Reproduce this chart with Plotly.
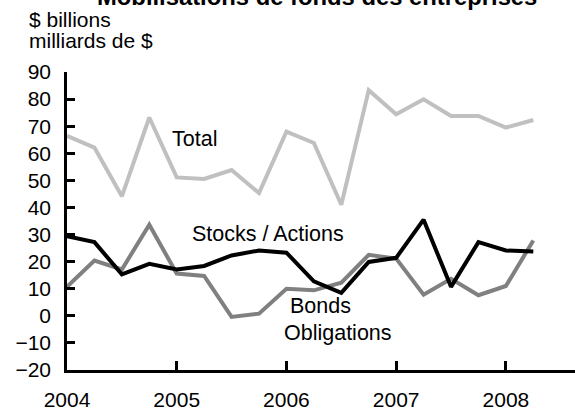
import plotly.graph_objects as go

quarters = [2004 + i * 0.25 for i in range(18)]
total = [66.4, 62.1, 44.1, 73.2, 51.1, 50.5, 53.8, 45.3, 68.0, 63.8, 41.0, 83.3, 74.4, 79.9, 73.8, 73.8, 69.5, 72.3]
stocks = [29.4, 27.2, 15.3, 19.2, 17.1, 18.4, 22.3, 24.1, 23.3, 12.7, 8.5, 19.9, 21.4, 35.5, 10.7, 27.2, 24.1, 23.7]
bonds = [10.7, 20.4, 17.1, 33.6, 15.6, 14.7, -0.4, 0.8, 10.0, 9.4, 12.2, 22.5, 21.1, 7.8, 13.7, 7.6, 11.0, 27.8]
year_ticks = [2004, 2005, 2006, 2007, 2008]
y_ticks = list(range(-20, 91, 10))

FONT = "Liberation Sans, Arial, sans-serif"

W, H = 575, 411
L, T, B, R = 67, 72, H - 371.7, 0

fig = go.Figure()
fig.add_trace(go.Scatter(x=quarters, y=total, mode="lines", line=dict(color="#c0c0c0", width=4), name="Total"))
fig.add_trace(go.Scatter(x=quarters, y=bonds, mode="lines", line=dict(color="#808080", width=4), name="Bonds"))
fig.add_trace(go.Scatter(x=quarters, y=stocks, mode="lines", line=dict(color="#000000", width=4), name="Stocks"))

fig.update_layout(
    width=W, height=H,
    margin=dict(l=L, r=R, t=T, b=B, pad=0),
    paper_bgcolor="white", plot_bgcolor="white",
    showlegend=False,
    font=dict(family=FONT, size=21, color="black"),
)
fig.update_xaxes(
    range=[2004, 2008.63], tickvals=year_ticks, ticktext=[str(y) for y in year_ticks],
    showgrid=False, zeroline=False, showline=True, linecolor="black", linewidth=2.5,
    ticks="inside", ticklen=9, tickwidth=2.5, tickcolor="black",
    tickfont=dict(family=FONT, size=21), ticklabelstandoff=9,
)
fig.update_yaxes(
    range=[-20, 90], tickvals=y_ticks,
    showgrid=False, zeroline=False, showline=True, linecolor="black", linewidth=2.5,
    ticks="inside", ticklen=8, tickwidth=2.5, tickcolor="black",
    tickfont=dict(family=FONT, size=21), ticklabelstandoff=9,
)

ann = dict(showarrow=False, font=dict(family=FONT, size=21.5, color="black"))
fig.add_annotation(x=2004.94, y=65.2, text="Total", xanchor="left", **ann)
fig.add_annotation(x=2005.12, y=30.3, text="Stocks / Actions", xanchor="left", **ann)
fig.add_annotation(x=2006.01, y=3.5, text="Bonds", xanchor="left", **ann)
fig.add_annotation(x=2005.96, y=-6.5, text="Obligations", xanchor="left", **ann)

plot_h = H - T - B
plot_w = W - L - R
def page_to_paper(px, py):
    return (px - L) / plot_w, (H - B - py) / plot_h

for text, px, py, size, bold in [("$ billions", 26.5, 19.5, 21, False), ("milliards de $", 26.5, 40, 21, False),
                                 ("Mobilisations de fonds des entreprises", 316.7, -3.5, 23.8, True)]:
    xp, yp = page_to_paper(px, py)
    fig.add_annotation(x=xp, y=yp, xref="paper", yref="paper",
                       text=f"<b>{text}</b>" if bold else text,
                       xanchor="center" if bold else "left", yanchor="middle",
                       showarrow=False, font=dict(family=FONT, size=size, color="black"))

fig.write_html("out.html", config={"displayModeBar": False},
               post_script="document.body.style.margin='0';")
